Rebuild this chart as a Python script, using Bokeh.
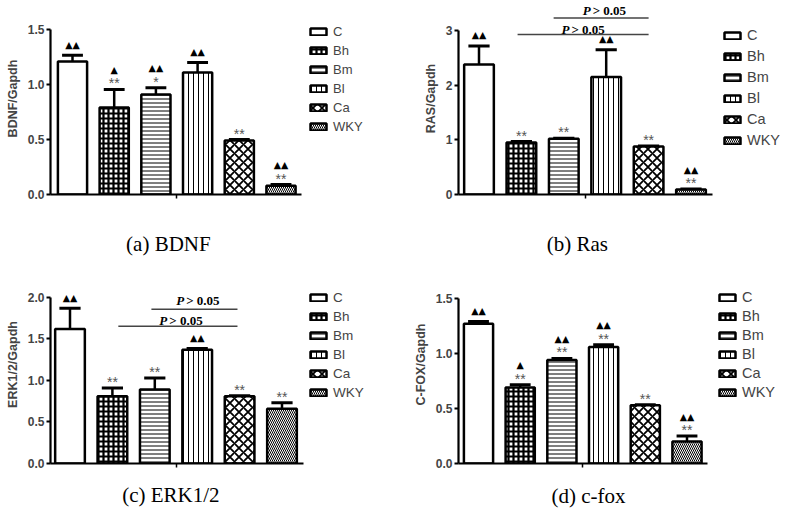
from bokeh.plotting import figure
from bokeh.models import (ColumnDataSource, Range1d, FixedTicker, Legend, LegendItem,
                          CustomJSTickFormatter)
from bokeh.layouts import column, row
from bokeh.core.properties import value
from bokeh.embed import file_html
from bokeh.resources import INLINE

# ---------------- data ----------------
groups = ["C", "Bh", "Bm", "Bl", "Ca", "WKY"]

bdnf = [1.21, 0.79, 0.91, 1.11, 0.49, 0.08]
bdnf_err = [0.055, 0.165, 0.06, 0.09, 0.01, 0.01]
bdnf_tri = ["▲▲", "▲", "▲▲", "▲▲", "", "▲▲"]
bdnf_star = ["", "**", "*", "", "**", "**"]
bdnf_tick_labels = ["0.0", "0.5", "1.0", "1.5"]

ras = [2.38, 0.95, 1.02, 2.15, 0.88, 0.09]
ras_err = [0.34, 0.02, 0.01, 0.50, 0.01, 0.01]
ras_tri = ["▲▲", "", "", "▲▲", "", "▲▲"]
ras_star = ["", "**", "**", "", "**", "**"]
ras_tick_labels = ["0", "1", "2", "3"]
ras_p_x0 = [1.76, 0.91]
ras_p_x1 = [4.0, 4.0]
ras_p_y = [3.231, 2.929]
ras_p_label_y = [3.373, 3.018]
ras_p_cx = [2.94, 2.44]

erk = [1.62, 0.81, 0.89, 1.37, 0.81, 0.66]
erk_err = [0.25, 0.10, 0.14, 0.015, 0.005, 0.07]
erk_tri = ["▲▲", "", "", "▲▲", "", ""]
erk_star = ["", "**", "**", "", "**", "**"]
erk_tick_labels = ["0.0", "0.5", "1.0", "1.5", "2.0"]
erk_p_x0 = [1.92, 1.14]
erk_p_x1 = [3.95, 3.95]
erk_p_y = [1.856, 1.653]
erk_p_label_y = [1.964, 1.725]
erk_p_cx = [3.0, 2.6]

cfox = [1.27, 0.69, 0.94, 1.06, 0.53, 0.20]
cfox_err = [0.02, 0.025, 0.015, 0.02, 0.005, 0.05]
cfox_tri = ["▲▲", "▲", "▲▲", "▲▲", "", "▲▲"]
cfox_star = ["", "**", "**", "**", "**", "**"]
cfox_tick_labels = ["0.0", "0.5", "1.0", "1.5"]

# ---------------- styles ----------------
hatches = ["blank", "cross", "horizontal_line", "vertical_line", "diagonal_cross", "left_diagonal_line"]
hscale = [6, 5, 4, 5, 9, 4]
hweight = [1, 2.2, 1, 1, 1.8, 1]
SANS = "Liberation Sans"
SERIF = "Liberation Serif"


def make_panel(W, H, L, T, B, c0, pitch, pxu, vals, errs, tris, stars, tick_labels,
               ylabel, title, title_x, title_standoff, legend_xy, legend_font, legend_spacing,
               p_x0=None, p_x1=None, p_y=None, p_ly=None, p_cx=None):
    x_start = (L - c0) / pitch
    x_end = x_start + (W - L) / pitch
    y_end = (H - T - B) / pxu
    p = figure(width=W, height=H, x_range=Range1d(x_start, x_end), y_range=Range1d(0, y_end),
               output_backend="svg", toolbar_location=None,
               min_border_left=L, min_border_right=0, min_border_top=T, min_border_bottom=B)
    p.outline_line_color = None
    p.grid.visible = False
    p.background_fill_color = "white"

    idx = list(range(len(vals)))
    etop = [v + e for v, e in zip(vals, errs)]
    src = ColumnDataSource(dict(
        x=idx, top=vals, etop=etop,
        xl=[i - 0.25 for i in idx], xr=[i + 0.25 for i in idx],
        hatch=hatches, hs=hscale, hw=hweight,
        tri=tris, star=stars,
        troff=[-20 if s else -11 for s in stars],
    ))
    p.segment(x0="x", y0="top", x1="x", y1="etop", line_width=2.5, line_color="black", source=src)
    p.segment(x0="xl", y0="etop", x1="xr", y1="etop", line_width=3, line_color="black", source=src)
    bars = p.vbar(x="x", top="top", bottom=0, width=0.7, fill_color="white", line_color="black",
                  line_width=2.5, hatch_pattern="hatch", hatch_scale="hs", hatch_weight="hw",
                  hatch_color="black", source=src)
    p.text(x="x", y="etop", text="star", y_offset=-6, text_align="center", text_baseline="middle",
           text_font=value(SANS), text_font_size="14px", text_color="#555555", source=src)
    p.text(x="x", y="etop", text="tri", y_offset="troff", text_align="center", text_baseline="middle",
           text_font=value("DejaVu Sans"), text_font_size="9.5px", text_color="black", source=src)

    if p_x0 is not None:
        bsrc = ColumnDataSource(dict(x0=p_x0, x1=p_x1, y=p_y, ly=p_ly, cx=p_cx,
                                     pt=["P"] * len(p_y), rest=["> 0.05"] * len(p_y)))
        p.segment(x0="x0", y0="y", x1="x1", y1="y", line_width=1.5, line_color="#444444", source=bsrc)
        p.text(x="cx", y="ly", text="pt", x_offset=-21, text_align="left",
               text_baseline="middle", text_font=value(SERIF), text_font_style="bold italic",
               text_font_size="13px", text_color="black", source=bsrc)
        p.text(x="cx", y="ly", text="rest", x_offset=-11, text_align="left",
               text_baseline="middle", text_font=value(SERIF), text_font_style="bold",
               text_font_size="13px", text_color="black", source=bsrc)

    yticks = [float(s) for s in tick_labels]
    yax = p.yaxis[0]
    yax.ticker = FixedTicker(ticks=yticks)
    yax.formatter = CustomJSTickFormatter(
        args=dict(tvals=yticks, tlabels=tick_labels),
        code="const i = tvals.indexOf(tick); return i >= 0 ? tlabels[i] : String(tick);")
    yax.bounds = (0, yticks[-1])
    yax.axis_line_width = 2.2
    yax.major_tick_line_width = 2
    yax.major_tick_out = 4
    yax.major_tick_in = 0
    yax.minor_tick_out = 0
    yax.minor_tick_in = 0
    yax.major_label_standoff = 2
    yax.major_label_text_font = SANS
    yax.major_label_text_font_style = "bold"
    yax.major_label_text_font_size = "12px"
    yax.axis_label = ylabel
    yax.axis_label_text_font = SANS
    yax.axis_label_text_font_style = "bold"
    yax.axis_label_text_font_size = "12.5px"
    yax.axis_label_standoff = 5

    # x axis: one small tick between the groups; the panel caption rides as the single tick label
    xax = p.xaxis[0]
    xax.ticker = FixedTicker(ticks=[title_x], minor_ticks=[2.5])
    xax.formatter = CustomJSTickFormatter(args=dict(cap=title), code="return cap;")
    xax.bounds = (x_start, 5.5)
    xax.axis_line_width = 2.2
    xax.minor_tick_line_width = 1.5
    xax.minor_tick_line_color = "black"
    xax.minor_tick_out = 4
    xax.minor_tick_in = 0
    xax.major_tick_out = 0
    xax.major_tick_in = 0
    xax.major_label_standoff = title_standoff
    xax.major_label_text_font = SERIF
    xax.major_label_text_font_size = "21px"
    xax.major_label_text_font_style = "normal"
    xax.major_label_text_color = "black"

    items = [LegendItem(label=g, renderers=[bars], index=i) for i, g in enumerate(groups)]
    leg = Legend(items=items, location=legend_xy, glyph_width=20, glyph_height=9,
                 label_standoff=5, spacing=legend_spacing, padding=0, margin=0,
                 border_line_color=None, background_fill_alpha=0,
                 label_text_font=SANS, label_text_font_size=legend_font)
    p.add_layout(leg)
    return p


pa = make_panel(400, 263, 50, 2, 69, 72, 41.7, 110, bdnf, bdnf_err, bdnf_tri, bdnf_star,
                bdnf_tick_labels, "BDNF/Gapdh", "(a) BDNF", 2.30, 33, (258, 60), "13px", 4)
pb = make_panel(387, 263, 58, 0, 65, 78.5, 42.4, 56.33, ras, ras_err, ras_tri, ras_star,
                ras_tick_labels, "RAS/Gapdh", "(b) Ras", 2.32, 33, (264, 46), "14.5px", 5,
                ras_p_x0, ras_p_x1, ras_p_y, ras_p_label_y, ras_p_cx)
pc = make_panel(400, 247, 50, 2, 46, 69.5, 42.4, 83.5, erk, erk_err, erk_tri, erk_star,
                erk_tick_labels, "ERK1/2/Gapdh", "(c) ERK1/2", 2.38, 15, (258, 63), "13.5px", 4,
                erk_p_x0, erk_p_x1, erk_p_y, erk_p_label_y, erk_p_cx)
pd = make_panel(387, 247, 58, 2, 47, 78, 41.7, 110, cfox, cfox_err, cfox_tri, cfox_star,
                cfox_tick_labels, "C-FOX/Gapdh", "(d) c-fox", 2.64, 16, (259, 63), "14.5px", 3)

layout = column(row(pa, pb), row(pc, pd))
open("out.html", "w").write(file_html(layout, INLINE))
